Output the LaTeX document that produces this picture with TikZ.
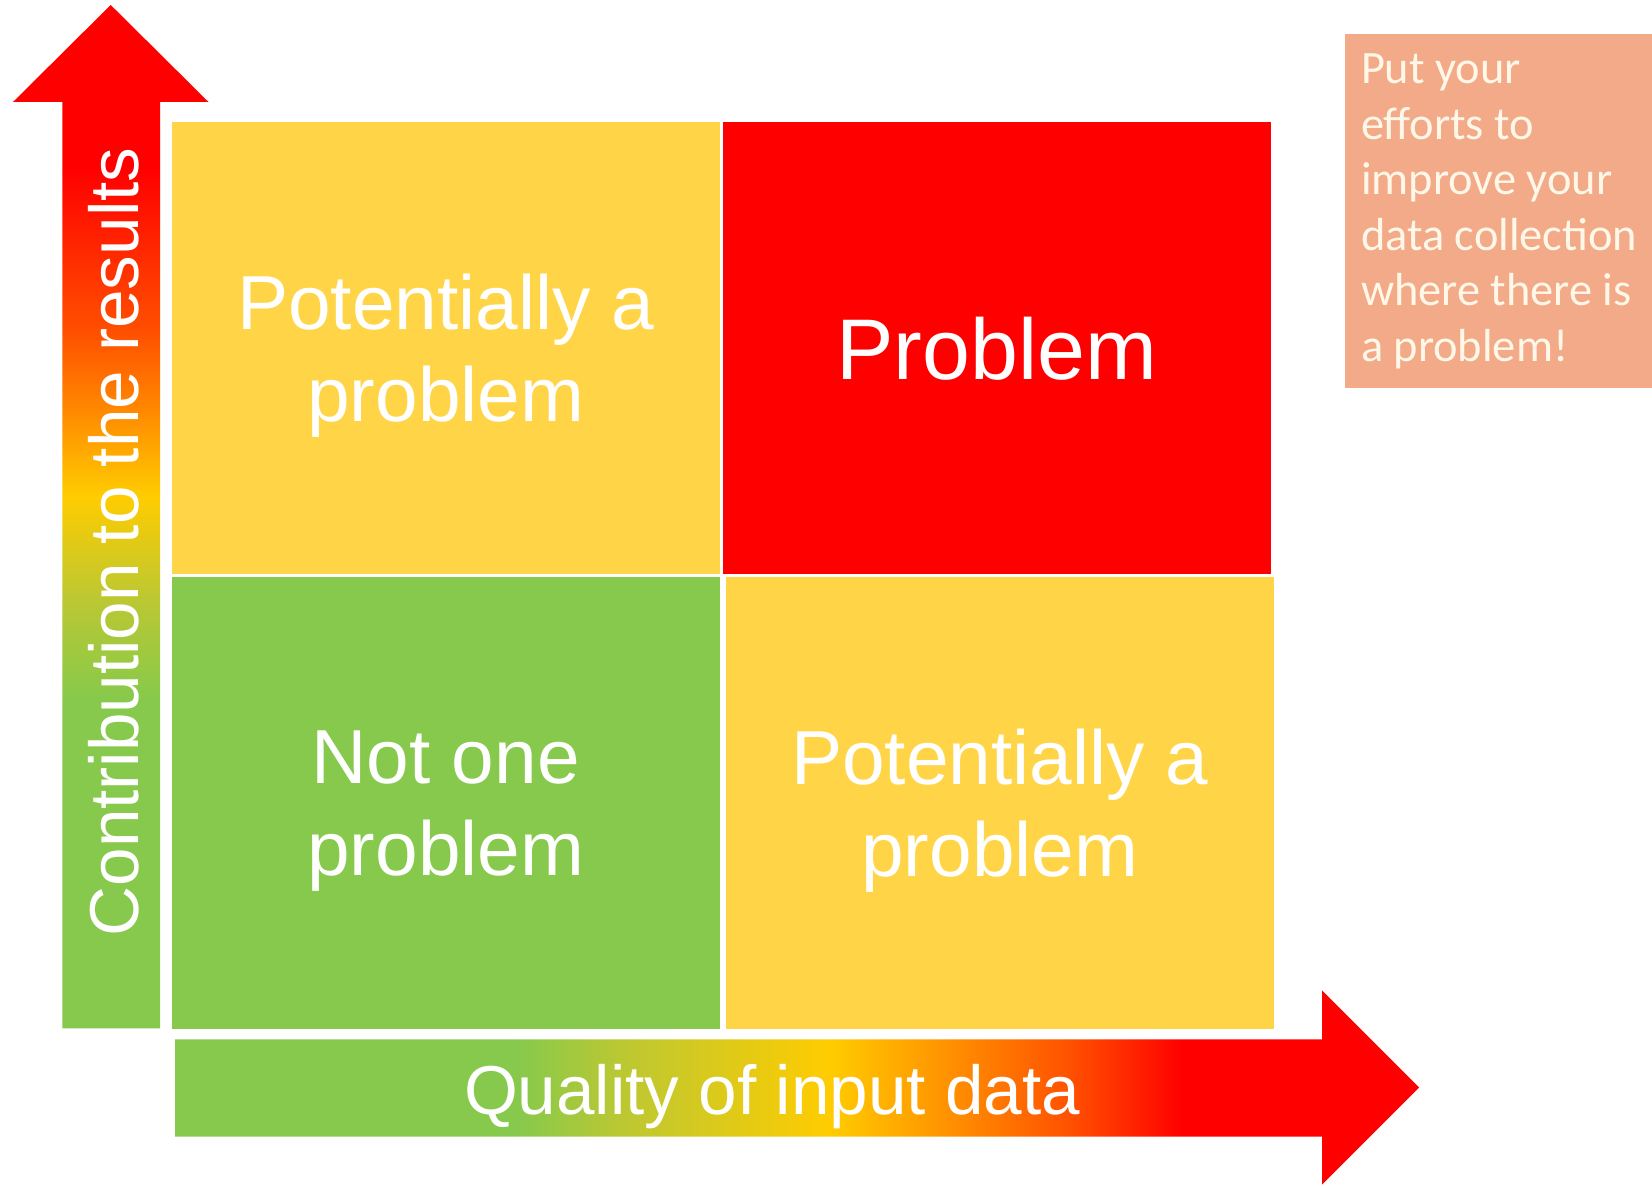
\documentclass[tikz,border=0pt]{standalone}
\usepackage{fontspec}
\setmainfont{Liberation Sans}
\newfontfamily\notefont{Carlito}
\usetikzlibrary{positioning}

\definecolor{qgreen}{RGB}{134,201,76}
\definecolor{qyellow}{RGB}{255,213,71}
\definecolor{qred}{RGB}{255,0,0}
\definecolor{grdlime}{RGB}{188,200,50}
\definecolor{grdyellow}{RGB}{255,204,0}
\definecolor{grdorange}{RGB}{255,140,0}
\definecolor{grdflame}{RGB}{255,80,0}
\definecolor{notefill}{RGB}{242,170,136}
\definecolor{notetext}{RGB}{255,248,232}

\pgfdeclareverticalshading{upshade}{100bp}{color(0bp)=(qgreen); color(41bp)=(qgreen); color(46bp)=(grdlime); color(51bp)=(grdyellow); color(55bp)=(grdorange); color(59bp)=(grdflame); color(67bp)=(qred); color(100bp)=(qred)}
\pgfdeclarehorizontalshading{rightshade}{100bp}{color(0bp)=(qgreen); color(38.7bp)=(qgreen); color(43bp)=(grdlime); color(51.3bp)=(grdyellow); color(56.5bp)=(grdorange); color(61bp)=(grdflame); color(65.5bp)=(qred); color(100bp)=(qred)}

\begin{document}
\begin{tikzpicture}[
	x=0.1mm, y=-0.1mm,
	quad/.style={minimum width=54.8mm, minimum height=45.2mm, inner sep=0pt, outer sep=0pt, text depth=0pt, align=center, text=white, font=\fontsize{21.8}{26.2}\selectfont},
	axislabel/.style={text=white, inner sep=0pt, anchor=base, font=\fontsize{19.7}{23}\selectfont},
	notebox/.style={fill=notefill, text=notetext, align=left, inner sep=0pt, minimum width=30.8mm, minimum height=35.4mm, font=\notefont\fontsize{13.2}{15.8}\selectfont}
]
	\useasboundingbox (0,0) rectangle (1652,1186);

	% arrows
	\shade[shading=upshade] (62.3,1028.5) -- (62.3,102) -- (13,102) -- (110.7,5) -- (208.5,102) -- (160,102) -- (160,1028.5) -- cycle;
	\shade[shading=rightshade] (175,1039.5) -- (1322,1039.5) -- (1322,990.5) -- (1419,1087.5) -- (1322,1184.5) -- (1322,1136.5) -- (175,1136.5) -- cycle;
	\node[axislabel, rotate=90] (ylabel) at (138,542) {Contribution to the results};
	\node[axislabel] (xlabel) at (772,1114) {Quality of input data};

	% quadrants
	\node[quad, fill=qyellow, anchor=north west] (tl) at (171.7,122.2) {Potentially a\\problem};
	\node[quad, fill=qred, right=0.3mm of tl, font=\fontsize{24.5}{29}\selectfont] (tr) {Problem};
	\node[quad, fill=qgreen, below=0.3mm of tl] (bl) {Not one\\problem};
	\node[quad, fill=qyellow, right=0.6mm of bl] (br) {Potentially a\\problem};

	\node[notebox, anchor=north west] (note) at (1344.4,33.7) {Put your\\efforts to\\improve your\\data collection\\where there is\\a problem!};
\end{tikzpicture}
\end{document}
